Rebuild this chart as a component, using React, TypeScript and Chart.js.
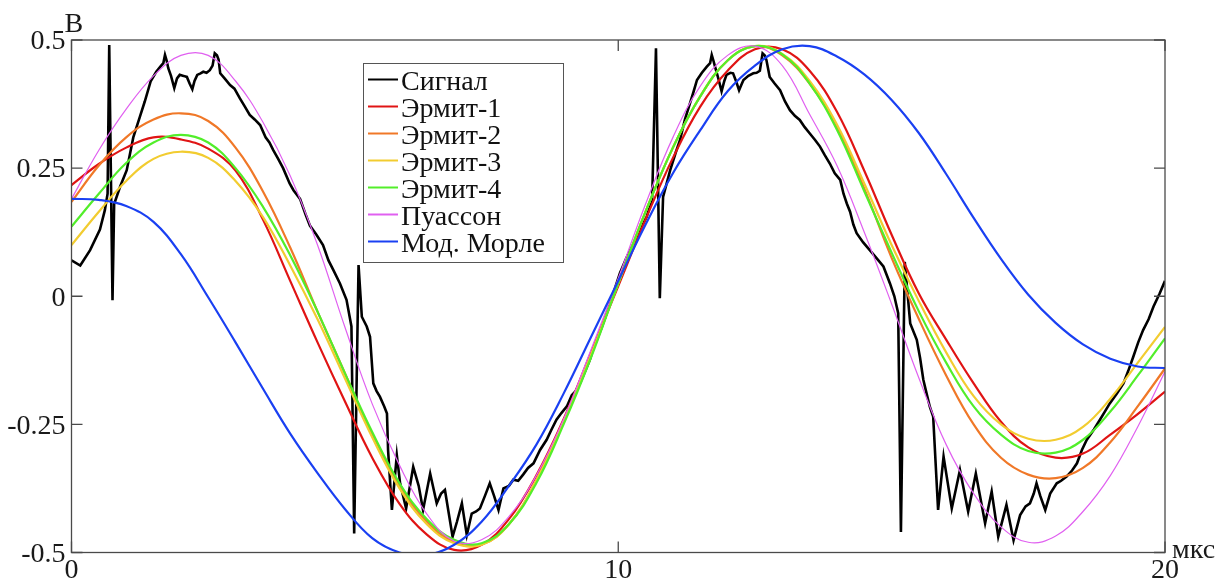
import React, { useEffect, useRef } from "react";
import { Chart, registerables } from "chart.js";

Chart.register(...registerables);

// ---- tick values ----
const xTicks = [0, 10, 20];
const yTicks = [-0.5, -0.25, 0, 0.25, 0.5];
const xAxisLabel = "мкс";
const yAxisLabel = "В";

// ---- series names / colours ----
const seriesNames = ["Сигнал", "Эрмит-1", "Эрмит-2", "Эрмит-3", "Эрмит-4", "Пуассон", "Мод. Морле"];
const seriesColors = ["#000000", "#e01414", "#f07828", "#f2cc30", "#52ee2a", "#e060f0", "#1a40f2"];
const seriesWidths = [2.6, 2.2, 2.2, 2.2, 2.2, 1.2, 2.2];

// ---- measured signal ----
const signalX = [
  0.0, 0.16, 0.34, 0.52, 0.61, 0.66, 0.69, 0.75, 0.78, 0.89, 1.01, 1.13, 1.25, 1.34, 1.45, 1.55, 1.64, 1.68, 1.71, 1.74,
  1.77, 1.82, 1.88, 1.93, 1.98, 2.05, 2.11, 2.16, 2.21, 2.25, 2.3, 2.36, 2.41, 2.47, 2.53, 2.58, 2.62, 2.66, 2.69, 2.72,
  2.8, 2.9, 2.98, 3.08, 3.16, 3.26, 3.35, 3.45, 3.55, 3.62, 3.69, 3.78, 3.87, 3.99, 4.06, 4.18, 4.28, 4.36, 4.48, 4.6,
  4.7, 4.79, 4.91, 5.03, 5.12, 5.17, 5.25, 5.31, 5.4, 5.46, 5.52, 5.58, 5.64, 5.72, 5.77, 5.79, 5.86, 5.95, 6.01, 6.12,
  6.25, 6.35, 6.43, 6.56, 6.68, 6.76, 6.83, 6.97, 7.05, 7.14, 7.23, 7.32, 7.4, 7.47, 7.56, 7.65, 7.73, 7.81, 7.9, 8.0,
  8.08, 8.17, 8.26, 8.35, 8.45, 8.57, 8.69, 8.78, 8.87, 8.96, 9.06, 9.15, 9.22, 9.3, 9.4, 9.48, 9.55, 9.61, 9.7, 9.79,
  9.91, 10.03, 10.15, 10.28, 10.4, 10.52, 10.62, 10.69, 10.76, 10.82, 10.95, 11.05, 11.13, 11.22, 11.31, 11.38, 11.44, 11.53, 11.62, 11.68,
  11.71, 11.74, 11.77, 11.83, 11.89, 11.94, 11.98, 12.05, 12.1, 12.16, 12.21, 12.25, 12.29, 12.38, 12.47, 12.53, 12.59, 12.64, 12.68, 12.71,
  12.77, 12.86, 12.96, 13.05, 13.14, 13.23, 13.32, 13.41, 13.5, 13.6, 13.69, 13.78, 13.87, 13.96, 14.06, 14.12, 14.18, 14.24, 14.3, 14.36,
  14.48, 14.6, 14.72, 14.85, 14.97, 15.05, 15.12, 15.17, 15.24, 15.34, 15.46, 15.52, 15.58, 15.64, 15.7, 15.76, 15.85, 15.95, 16.1, 16.25,
  16.4, 16.54, 16.71, 16.83, 16.95, 17.1, 17.23, 17.35, 17.45, 17.53, 17.6, 17.65, 17.72, 17.81, 17.9, 18.02, 18.1, 18.2, 18.3, 18.39,
  18.48, 18.57, 18.7, 18.81, 18.9, 18.99, 19.12, 19.24, 19.33, 19.42, 19.51, 19.6, 19.7, 19.79, 19.9, 20.0,
];
const signalY = [
  0.07, 0.06, 0.09, 0.13, 0.168, 0.2, 0.49, -0.008, 0.18, 0.214, 0.246, 0.31, 0.35, 0.38, 0.42, 0.438, 0.45, 0.455, 0.471, 0.46,
  0.445, 0.43, 0.406, 0.425, 0.432, 0.43, 0.428, 0.415, 0.404, 0.42, 0.432, 0.435, 0.438, 0.436, 0.441, 0.45, 0.474, 0.47, 0.462, 0.435,
  0.425, 0.412, 0.405, 0.386, 0.372, 0.354, 0.345, 0.334, 0.31, 0.3, 0.285, 0.268, 0.25, 0.22, 0.207, 0.19, 0.16, 0.138, 0.12, 0.1,
  0.07, 0.051, 0.025, -0.007, -0.059, -0.463, 0.061, -0.04, -0.059, -0.079, -0.17, -0.185, -0.196, -0.215, -0.229, -0.3, -0.417, -0.31, -0.365, -0.414,
  -0.333, -0.37, -0.417, -0.346, -0.404, -0.385, -0.378, -0.469, -0.44, -0.404, -0.466, -0.424, -0.42, -0.414, -0.39, -0.365, -0.39, -0.417, -0.375, -0.37,
  -0.358, -0.36, -0.348, -0.335, -0.326, -0.3, -0.28, -0.26, -0.241, -0.228, -0.215, -0.193, -0.185, -0.17, -0.145, -0.124, -0.1, -0.085, -0.06, -0.033,
  0.006, 0.045, 0.075, 0.103, 0.13, 0.155, 0.19, 0.484, -0.004, 0.194, 0.246, 0.28, 0.305, 0.345, 0.376, 0.4, 0.422, 0.436, 0.448, 0.455,
  0.471, 0.46, 0.448, 0.425, 0.4, 0.42, 0.432, 0.436, 0.435, 0.418, 0.402, 0.412, 0.422, 0.43, 0.435, 0.436, 0.44, 0.474, 0.47, 0.461,
  0.428, 0.415, 0.402, 0.38, 0.363, 0.352, 0.344, 0.33, 0.318, 0.305, 0.292, 0.275, 0.259, 0.24, 0.227, 0.2, 0.181, 0.165, 0.14, 0.123,
  0.105, 0.09, 0.075, 0.058, 0.025, 0.0, -0.033, -0.46, 0.067, -0.053, -0.085, -0.12, -0.163, -0.19, -0.216, -0.235, -0.417, -0.313, -0.414, -0.339,
  -0.42, -0.346, -0.443, -0.381, -0.469, -0.407, -0.476, -0.427, -0.41, -0.404, -0.385, -0.365, -0.39, -0.417, -0.385, -0.365, -0.36, -0.352, -0.34, -0.326,
  -0.3, -0.28, -0.26, -0.241, -0.225, -0.209, -0.19, -0.17, -0.145, -0.118, -0.09, -0.066, -0.045, -0.02, 0.005, 0.03,
];

// ---- fitted wavelet curves, sampled every 0.5 µs ----
const fitX = [
  0, 0.5, 1, 1.5, 2, 2.5, 3, 3.5, 4, 4.5, 5, 5.5, 6, 6.5, 7, 7.5, 8, 8.5, 9, 9.5,
  10, 10.5, 11, 11.5, 12, 12.5, 13, 13.5, 14, 14.5, 15, 15.5, 16, 16.5, 17, 17.5, 18, 18.5, 19, 19.5, 20,
];
const hermite1 = [
  0.217, 0.258, 0.29, 0.31, 0.306, 0.288, 0.245, 0.15, 0.03, -0.09, -0.205, -0.315, -0.405, -0.465, -0.495, -0.485, -0.435, -0.35, -0.24, -0.11,
  0.02, 0.15, 0.27, 0.37, 0.44, 0.482, 0.482, 0.44, 0.36, 0.245, 0.12, 0.005, -0.085, -0.17, -0.245, -0.295, -0.315, -0.307, -0.27, -0.23, -0.186,
];
const hermite2 = [
  0.184, 0.255, 0.31, 0.345, 0.357, 0.342, 0.29, 0.205, 0.095, -0.03, -0.15, -0.27, -0.37, -0.44, -0.48, -0.485, -0.445, -0.36, -0.245, -0.115,
  0.025, 0.165, 0.29, 0.39, 0.46, 0.488, 0.47, 0.415, 0.33, 0.21, 0.075, -0.045, -0.155, -0.25, -0.315, -0.348, -0.355, -0.335, -0.285, -0.215, -0.141,
];
const hermite3 = [
  0.1, 0.165, 0.225, 0.268, 0.282, 0.27, 0.225, 0.155, 0.06, -0.045, -0.16, -0.275, -0.375, -0.445, -0.482, -0.485, -0.445, -0.36, -0.245, -0.115,
  0.025, 0.165, 0.29, 0.39, 0.46, 0.488, 0.473, 0.42, 0.335, 0.22, 0.1, -0.01, -0.11, -0.195, -0.25, -0.278, -0.28, -0.255, -0.2, -0.13, -0.06,
];
const hermite4 = [
  0.136, 0.2, 0.26, 0.3, 0.315, 0.3, 0.25, 0.175, 0.08, -0.03, -0.15, -0.265, -0.365, -0.435, -0.475, -0.482, -0.445, -0.365, -0.25, -0.12,
  0.025, 0.165, 0.29, 0.39, 0.46, 0.488, 0.472, 0.415, 0.325, 0.205, 0.085, -0.03, -0.13, -0.215, -0.27, -0.302, -0.305, -0.28, -0.225, -0.155, -0.082,
];
const poisson = [
  0.19, 0.285, 0.365, 0.43, 0.47, 0.47, 0.42, 0.34, 0.235, 0.1, -0.06, -0.21, -0.33, -0.425, -0.478, -0.475, -0.43, -0.35, -0.24, -0.105,
  0.035, 0.18, 0.31, 0.41, 0.47, 0.488, 0.45, 0.355, 0.255, 0.125, -0.015, -0.16, -0.29, -0.385, -0.45, -0.48, -0.468, -0.42, -0.35, -0.255, -0.147,
];
const morlet = [
  0.19, 0.188, 0.176, 0.145, 0.082, -0.002, -0.09, -0.18, -0.268, -0.345, -0.415, -0.472, -0.5, -0.505, -0.485, -0.44, -0.37, -0.29, -0.19, -0.08,
  0.03, 0.14, 0.24, 0.324, 0.4, 0.45, 0.482, 0.488, 0.468, 0.433, 0.383, 0.318, 0.238, 0.153, 0.073, 0.003, -0.052, -0.094, -0.122, -0.137, -0.14,
];

const FONT = '"Liberation Serif", "Times New Roman", serif';

const framePlugin = {
  id: "frameAndLegend",
  afterDatasetsDraw(chart: any) {
    const { ctx, chartArea: a, scales } = chart;
    ctx.save();
    // frame
    ctx.strokeStyle = "#4a4a4a";
    ctx.lineWidth = 1.3;
    ctx.strokeRect(a.left, a.top, a.right - a.left, a.bottom - a.top);
    // inward ticks
    const tl = 11;
    ctx.beginPath();
    for (const v of yTicks) {
      const y = scales.y.getPixelForValue(v);
      ctx.moveTo(a.left, y);
      ctx.lineTo(a.left + tl, y);
      ctx.moveTo(a.right, y);
      ctx.lineTo(a.right - tl, y);
    }
    for (const v of xTicks) {
      const x = scales.x.getPixelForValue(v);
      ctx.moveTo(x, a.bottom);
      ctx.lineTo(x, a.bottom - tl);
      ctx.moveTo(x, a.top);
      ctx.lineTo(x, a.top + tl);
    }
    ctx.stroke();
    // axis labels
    ctx.fillStyle = "#1a1a1a";
    ctx.font = `28px ${FONT}`;
    ctx.textAlign = "left";
    ctx.textBaseline = "alphabetic";
    ctx.fillText(yAxisLabel, a.left - 7, a.top - 8);
    ctx.fillText(xAxisLabel, a.right + 7, a.bottom + 5.5);
    // legend
    const lx = a.left + 291.5;
    const ly = a.top + 23;
    const lw = 200;
    const lh = 199;
    ctx.fillStyle = "#ffffff";
    ctx.fillRect(lx, ly, lw, lh);
    ctx.strokeStyle = "#555555";
    ctx.lineWidth = 1;
    ctx.strokeRect(lx + 0.5, ly + 0.5, lw, lh);
    for (let i = 0; i < seriesNames.length; i++) {
      const base = ly + 27 + 27 * i;
      ctx.strokeStyle = seriesColors[i];
      ctx.lineWidth = 2;
      ctx.beginPath();
      ctx.moveTo(lx + 5, base - 10.5);
      ctx.lineTo(lx + 35, base - 10.5);
      ctx.stroke();
      ctx.fillStyle = "#111111";
      ctx.fillText(seriesNames[i], lx + 38, base);
    }
    ctx.restore();
  },
};

export default function App() {
  const canvasRef = useRef<HTMLCanvasElement | null>(null);

  useEffect(() => {
    if (!canvasRef.current) return;
    const fits = [hermite1, hermite2, hermite3, hermite4, poisson, morlet];
    const datasets: any[] = [
      {
        label: seriesNames[0],
        data: signalX.map((x, i) => ({ x, y: signalY[i] })),
        borderColor: seriesColors[0],
        borderWidth: seriesWidths[0],
        pointRadius: 0,
        tension: 0,
        order: 10,
      },
      ...fits.map((arr, k) => ({
        label: seriesNames[k + 1],
        data: fitX.map((x, i) => ({ x, y: arr[i] })),
        borderColor: seriesColors[k + 1],
        borderWidth: seriesWidths[k + 1],
        pointRadius: 0,
        tension: 0.4,
        order: 9 - k,
      })),
    ];

    const chart = new Chart(canvasRef.current, {
      type: "line",
      data: { datasets },
      options: {
        animation: false,
        responsive: true,
        maintainAspectRatio: false,
        layout: { padding: { top: 40, right: 61, left: 0, bottom: 0 } },
        plugins: { legend: { display: false }, tooltip: { enabled: false } },
        scales: {
          x: {
            type: "linear",
            min: 0,
            max: 20,
            afterFit: (s: any) => {
              s.height = 28.5;
            },
            afterBuildTicks: (s: any) => {
              s.ticks = xTicks.map((v) => ({ value: v }));
            },
            grid: { display: false, drawTicks: false },
            border: { display: false },
            ticks: {
              font: { family: FONT, size: 28 },
              color: "#1a1a1a",
              padding: 1,
              maxRotation: 0,
              autoSkip: false,
              callback: (v: any) => String(v),
            },
          },
          y: {
            type: "linear",
            min: -0.5,
            max: 0.5,
            afterFit: (s: any) => {
              s.width = 71.5;
            },
            afterBuildTicks: (s: any) => {
              s.ticks = yTicks.map((v) => ({ value: v }));
            },
            grid: { display: false, drawTicks: false },
            border: { display: false },
            ticks: {
              font: { family: FONT, size: 28 },
              color: "#1a1a1a",
              padding: 6,
              labelOffset: 2,
              autoSkip: false,
              callback: (v: any) => String(v),
            },
          },
        },
      },
      plugins: [framePlugin],
    });
    return () => chart.destroy();
  }, []);

  return (
    <div style={{ position: "fixed", left: 0, top: 0, width: 1226, height: 581, background: "#fff" }}>
      <canvas ref={canvasRef} />
    </div>
  );
}
